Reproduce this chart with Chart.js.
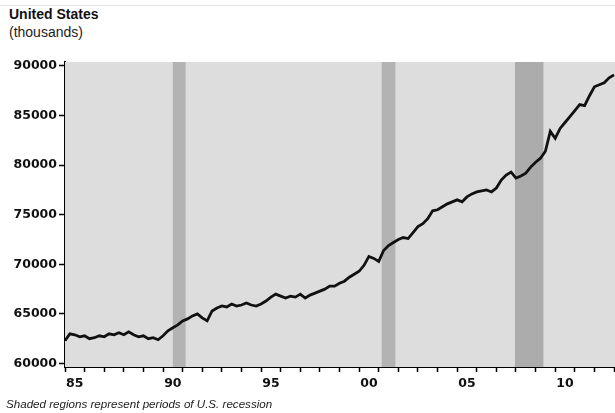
<!DOCTYPE html>
<html>
<head>
<meta charset="utf-8">
<script src="https://cdn.jsdelivr.net/npm/chart.js@4.4.1/dist/chart.umd.min.js"></script>
<style>
  html, body { margin: 0; padding: 0; background: #fff; }
  #wrap { position: relative; width: 615px; height: 413px; overflow: hidden; font-family: "Liberation Sans", Arial, sans-serif; }
  #topline { position: absolute; left: 0; top: 5px; width: 615px; height: 1px; background: #e6e6e6; }
  #titulo { position: absolute; left: 9px; top: 6px; font-size: 14px; font-weight: bold; color: #111; }
  #unidad { position: absolute; left: 9px; top: 24px; font-size: 14px; color: #222; }
  #nota { position: absolute; left: 6px; top: 397px; font-size: 11.6px; font-style: italic; color: #222; }
  canvas { position: absolute; left: 0; top: 0; }
</style>
</head>
<body>
<div id="wrap">
  <div id="topline"></div>
  <div id="titulo">United States</div>
  <div id="unidad">(thousands)</div>
  <canvas id="empleoChart" width="615" height="413"></canvas>
  <div id="nota">Shaded regions represent periods of U.S. recession</div>
</div>
<script>
// años (fracción = trimestre) y valores en miles
const anios = [
  1985.00, 1985.25, 1985.50, 1985.75, 1986.00, 1986.25, 1986.50, 1986.75,
  1987.00, 1987.25, 1987.50, 1987.75, 1988.00, 1988.25, 1988.50, 1988.75,
  1989.00, 1989.25, 1989.50, 1989.75, 1990.00, 1990.25, 1990.50, 1990.75,
  1991.00, 1991.25, 1991.50, 1991.75, 1992.00, 1992.25, 1992.50, 1992.75,
  1993.00, 1993.25, 1993.50, 1993.75, 1994.00, 1994.25, 1994.50, 1994.75,
  1995.00, 1995.25, 1995.50, 1995.75, 1996.00, 1996.25, 1996.50, 1996.75,
  1997.00, 1997.25, 1997.50, 1997.75, 1998.00, 1998.25, 1998.50, 1998.75,
  1999.00, 1999.25, 1999.50, 1999.75, 2000.00, 2000.25, 2000.50, 2000.75,
  2001.00, 2001.25, 2001.50, 2001.75, 2002.00, 2002.25, 2002.50, 2002.75,
  2003.00, 2003.25, 2003.50, 2003.75, 2004.00, 2004.25, 2004.50, 2004.75,
  2005.00, 2005.25, 2005.50, 2005.75, 2006.00, 2006.25, 2006.50, 2006.75,
  2007.00, 2007.25, 2007.50, 2007.75, 2008.00, 2008.25, 2008.50, 2008.75,
  2009.00, 2009.25, 2009.50, 2009.75, 2010.00, 2010.25, 2010.50, 2010.75,
  2011.00, 2011.25, 2011.50, 2011.75, 2012.00, 2012.25, 2012.50, 2012.75,
  2013.00
];
const empleo = [
  62300, 63000, 62900, 62700, 62800, 62500, 62600, 62800,
  62700, 63000, 62900, 63100, 62900, 63200, 62900, 62700,
  62800, 62500, 62600, 62400, 62800, 63300, 63600, 63900,
  64300, 64500, 64800, 65000, 64600, 64300, 65300, 65600,
  65800, 65700, 66000, 65800, 65900, 66100, 65900, 65800,
  66000, 66300, 66700, 67000, 66800, 66600, 66800, 66700,
  67000, 66600, 66900, 67100, 67300, 67500, 67800, 67800,
  68100, 68300, 68700, 69000, 69300, 69900, 70800, 70600,
  70300, 71400, 71900, 72200, 72500, 72700, 72600, 73200,
  73800, 74100, 74600, 75400, 75500, 75800, 76100, 76300,
  76500, 76300, 76800, 77100, 77300, 77400, 77500, 77300,
  77700, 78500, 79000, 79300, 78700, 78900, 79200, 79800,
  80300, 80700, 81400, 83400, 82700, 83700, 84300, 84900,
  85500, 86100, 86000, 87000, 87900, 88100, 88300, 88800,
  89100
];
// periodos de recesión (inicio, fin)
const recesionInicio = [1990.5, 2001.15, 2007.95];
const recesionFin = [1991.15, 2001.85, 2009.4];
const recesionColor = ['#b3b3b3', '#b3b3b3', '#acacac'];

const yTicks = [60000, 65000, 70000, 75000, 80000, 85000, 90000];
const etiquetasAnio = { 1985: '85', 1990: '90', 1995: '95', 2000: '00', 2005: '05', 2010: '10' };

const fondoPlugin = {
    id: 'fondo',
    beforeDatasetsDraw(chart) {
        const { ctx, chartArea, scales } = chart;
        ctx.save();
        ctx.fillStyle = '#dddddd';
        ctx.fillRect(chartArea.left, chartArea.top, chartArea.right - chartArea.left, chartArea.bottom - chartArea.top);
        recesionInicio.forEach((ini, i) => {
            const x1 = scales.x.getPixelForValue(ini);
            const x2 = scales.x.getPixelForValue(recesionFin[i]);
            ctx.fillStyle = recesionColor[i];
            ctx.fillRect(x1, chartArea.top, x2 - x1, chartArea.bottom - chartArea.top);
        });
        ctx.restore();
    }
};

document.addEventListener('DOMContentLoaded', () => {
    const ctx = document.getElementById('empleoChart').getContext('2d');
    new Chart(ctx, {
        type: 'line',
        data: {
            datasets: [{
                data: anios.map((a, i) => ({ x: a, y: empleo[i] })),
                borderColor: '#111',
                borderWidth: 2.8,
                pointRadius: 0,
                tension: 0,
                fill: false
            }]
        },
        options: {
            responsive: false,
            animation: false,
            layout: { padding: { left: 0, right: 0, top: 62, bottom: 20 } },
            plugins: {
                legend: { display: false },
                tooltip: { enabled: false }
            },
            scales: {
                x: {
                    type: 'linear',
                    min: 1985,
                    max: 2013.05,
                    border: { color: '#000', width: 2 },
                    grid: {
                        drawOnChartArea: false,
                        tickLength: 5,
                        tickWidth: 1.5,
                        tickColor: (c) => (c.tick && Number.isInteger(c.tick.value)) ? '#000' : 'rgba(0,0,0,0)'
                    },
                    afterBuildTicks: (axis) => {
                        const t = [];
                        for (let a = 1985; a <= 2013; a++) {
                            t.push({ value: a });
                            t.push({ value: a + 0.5 });
                        }
                        axis.ticks = t;
                    },
                    afterFit: (axis) => {
                        axis.height = 26;
                        axis.paddingLeft = 0;
                        axis.paddingRight = 0;
                    },
                    ticks: {
                        autoSkip: false,
                        maxRotation: 0,
                        padding: 4,
                        color: '#111',
                        font: { family: 'DejaVu Sans', size: 12.5, weight: 'bold' },
                        callback: (v) => {
                            const base = v - 0.5;
                            return etiquetasAnio[base] !== undefined ? etiquetasAnio[base] : '';
                        }
                    }
                },
                y: {
                    min: 59650,
                    max: 90400,
                    border: { color: '#000', width: 2 },
                    grid: {
                        drawOnChartArea: false,
                        tickLength: 6,
                        tickWidth: 1.5,
                        tickColor: '#000'
                    },
                    afterBuildTicks: (axis) => {
                        axis.ticks = yTicks.map(v => ({ value: v }));
                    },
                    afterFit: (axis) => { axis.width = 65; },
                    ticks: {
                        padding: 2,
                        color: '#111',
                        font: { family: 'DejaVu Sans', size: 12.5, weight: 'bold' },
                        callback: (v) => String(v)
                    }
                }
            }
        },
        plugins: [fondoPlugin]
    });
});
</script>
</body>
</html>
